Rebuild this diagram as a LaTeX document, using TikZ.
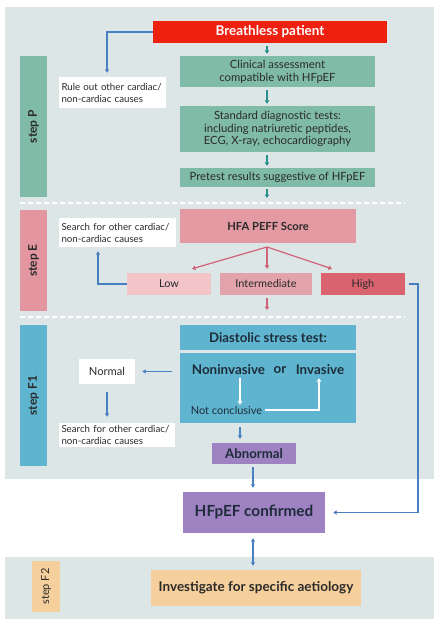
\documentclass[tikz,border=0pt]{standalone}
\usepackage{fontspec}
\setmainfont{Lato}
\usetikzlibrary{arrows.meta,positioning}
\definecolor{bgc}{HTML}{DDE6E7}
\definecolor{redc}{HTML}{EE2010}
\definecolor{greenc}{HTML}{80BBA8}
\definecolor{tealarr}{HTML}{2A908B}
\definecolor{pinkE}{HTML}{E3969F}
\definecolor{pinkHFA}{HTML}{E39AA3}
\definecolor{pinkLow}{HTML}{F2C5C9}
\definecolor{pinkInt}{HTML}{E3A3AA}
\definecolor{pinkHigh}{HTML}{D9646F}
\definecolor{pinkarr}{HTML}{D0637A}
\definecolor{bluec}{HTML}{5FB5CF}
\definecolor{bluearr}{HTML}{4A7FC1}
\definecolor{purplec}{HTML}{9E82C2}
\definecolor{orangec}{HTML}{F6D09C}
\definecolor{txt}{HTML}{2A2A2A}
\definecolor{btxt}{HTML}{1E2C3A}
\tikzset{
  px/.style={x=1pt,y=-1pt},
  box/.style={rectangle,inner sep=0pt,align=center,text=txt,font=\fontsize{11.3}{13}\selectfont},
  stepbar/.style={rectangle,inner sep=0pt,minimum height=27pt,font=\bfseries\fontsize{12}{13}\selectfont,text=txt},
  wbox/.style={rectangle,fill=white,inner sep=0pt,text=txt,align=left,font=\fontsize{9.7}{12}\selectfont},
  tarr/.style={draw=tealarr,line width=1.4pt,-{Triangle[width=4.5pt,length=3.5pt]}},
  parr/.style={draw=pinkarr,line width=1.2pt,-{Triangle[width=4.5pt,length=3.5pt]}},
  barr/.style={draw=bluearr,line width=1.1pt,-{Triangle[width=4pt,length=3.5pt]}},
  warr/.style={draw=white,line width=1.3pt,-{Triangle[width=4.5pt,length=3.5pt]}},
  dline/.style={draw=white,line width=1.3pt,dash pattern=on 5pt off 3pt},
}
\begin{document}
\begin{tikzpicture}[px]
\useasboundingbox[fill=white] (0,0) rectangle (443,625);
% panels
\fill[bgc] (5,7) rectangle (434,479);
\fill[bgc] (5,557) rectangle (434,619);
% step P
\node[box,fill=redc,minimum width=234pt,minimum height=22pt,text=white,font=\bfseries\fontsize{13.5}{14}\selectfont] (breath) at (270,32) {Breathless patient};
\node[box,fill=greenc,minimum width=195pt,minimum height=31pt] (clin) at (277.5,71.5) {Clinical assessment\\compatible with HFpEF};
\node[box,fill=greenc,minimum width=195pt,minimum height=46pt,font=\fontsize{11.3}{12.8}\selectfont] (std) at (277.5,129) {Standard diagnostic tests:\\including natriuretic peptides,\\ECG, X-ray, echocardiography};
\node[box,fill=greenc,minimum width=195pt,minimum height=19pt] (pre) at (277.5,177.5) {Pretest results suggestive of HFpEF};
\node[wbox,minimum width=107pt,minimum height=31pt,text width=102pt] (rule) at (112.5,92.5) {Rule out other cardiac/\\non-cardiac causes};
\node[stepbar,fill=greenc,minimum width=141pt,rotate=90] (stepP) at (33.5,126.5) {step P};
\coordinate (ax) at (267,0);
\coordinate (bx) at (107,0);
\draw[tarr,shorten <=3pt,shorten >=2pt] (breath.south -| ax) -- (clin.north -| ax);
\draw[tarr,shorten <=3pt,shorten >=2pt] (clin.south -| ax) -- (std.north -| ax);
\draw[tarr,shorten <=3pt,shorten >=2pt] (std.south -| ax) -- (pre.north -| ax);
\coordinate (preend) at (267,198);
\draw[tarr,shorten <=2pt] (pre.south -| ax) -- (preend);
\draw[barr,shorten >=4pt] (breath.west) -| (rule.north -| bx);
\draw[dline] (20,203) -- (405,203);
% step E
\node[stepbar,fill=pinkE,minimum width=101pt,rotate=90] (stepE) at (33.5,260.5) {step E};
\node[wbox,minimum width=117pt,minimum height=29pt,text width=112pt] (search1) at (117.5,232.5) {Search for other cardiac/\\non-cardiac causes};
\node[box,fill=pinkHFA,minimum width=176pt,minimum height=34pt,font=\bfseries\fontsize{11.2}{13}\selectfont] (hfa) at (268,226) {HFA PEFF Score};
\node[box,fill=pinkLow,minimum width=84pt,minimum height=22pt,font=\fontsize{10.9}{12}\selectfont] (low) at (169,284) {Low};
\node[box,fill=pinkInt,minimum width=92pt,minimum height=22pt,font=\fontsize{10.9}{12}\selectfont] (inter) at (266,284) {Intermediate};
\node[box,fill=pinkHigh,minimum width=84pt,minimum height=22pt,font=\fontsize{10.9}{12}\selectfont] (high) at (363,284) {High};
\coordinate (hfab) at (267,247);
\draw[parr] (hfab) -- ([xshift=23pt,yshift=4pt]low.north);
\draw[parr] (hfab) -- ([yshift=4pt]inter.north -| hfab);
\draw[parr] (hfab) -- ([xshift=-31pt,yshift=4pt]high.north);
\coordinate (intend) at (267,310);
\draw[parr,shorten <=3pt] (inter.south -| hfab) -- (intend);
\coordinate (lx) at (98,0);
\draw[barr,shorten >=4pt] (low.west) -| (search1.south -| lx);
\draw[dline] (20,317) -- (405,317);
% step F1
\node[stepbar,fill=bluec,minimum width=141pt,rotate=90] (stepF1) at (33.5,395.5) {step F1};
\node[box,fill=bluec,minimum width=176pt,minimum height=25pt,text=btxt,font=\bfseries\fontsize{13.2}{14}\selectfont] (dst) at (268,337.5) {Diastolic stress test:};
\node[box,fill=bluec,minimum width=176pt,minimum height=70pt] (nonin) at (268,388) {};
\node[box,text=btxt,font=\bfseries\fontsize{13.4}{14}\selectfont] (nonint) at (228.5,370) {Noninvasive};
\node[box,text=btxt,font=\bfseries\fontsize{13.4}{14}\selectfont] (ort) at (280,370) {or};
\node[box,text=btxt,font=\bfseries\fontsize{13.4}{14}\selectfont] (invt) at (320,370) {Invasive};
\node[box,text=btxt,font=\fontsize{11}{12}\selectfont] (notc) at (226.5,410) {Not conclusive};
\coordinate (wx) at (240,0);
\draw[warr,shorten <=3pt,shorten >=1pt] (nonint.south -| wx) -- (notc.north -| wx);
\draw[warr,shorten <=3pt,shorten >=3pt] (notc.east) -| (invt.south -| 319,0);
\node[wbox,align=center,minimum width=56pt,minimum height=25pt,font=\fontsize{11.2}{12}\selectfont] (normal) at (107,371.5) {Normal};
\node[wbox,minimum width=116pt,minimum height=24pt,text width=111pt] (search2) at (117,435) {Search for other cardiac/\\non-cardiac causes};
\draw[barr,shorten <=8pt,shorten >=7pt] (nonin.west |- normal) -- (normal.east);
\draw[barr,shorten <=8pt,shorten >=6pt] (normal.south) -- (search2.north -| normal);
\node[box,fill=purplec,minimum width=84pt,minimum height=21pt,text=btxt,font=\bfseries\fontsize{13.2}{14}\selectfont] (abn) at (254,453.5) {Abnormal};
\draw[barr,shorten <=4pt,shorten >=4pt] (nonin.south -| wx) -- (abn.north -| wx);
% confirmed
\node[box,fill=purplec,minimum width=142pt,minimum height=41pt,text=btxt,font=\bfseries\fontsize{15.3}{17}\selectfont] (conf) at (254,512.5) {HFpEF confirmed};
\coordinate (cx) at (253,0);
\draw[barr,shorten <=3pt,shorten >=4pt] (abn.south -| cx) -- (conf.north -| cx);
\coordinate (hr) at (418,0);
\draw[barr,shorten >=8pt] ([xshift=4pt]high.east) -- (high.east -| hr) |- (conf.east);
% step F2
\node[box,fill=orangec,minimum width=210pt,minimum height=36pt,font=\bfseries\fontsize{13.5}{15}\selectfont] (inv) at (256,588) {Investigate for specific aetiology};
\node[stepbar,fill=orangec,minimum height=28pt,minimum width=51pt,rotate=90,font=\fontsize{11}{12}\selectfont] (stepF2) at (46,586.5) {step F2};
\draw[barr,{Triangle[width=4pt,length=3.5pt]}-{Triangle[width=4pt,length=3.5pt]},shorten <=5pt,shorten >=4pt] (conf.south -| cx) -- (inv.north -| cx);
\end{tikzpicture}
\end{document}
